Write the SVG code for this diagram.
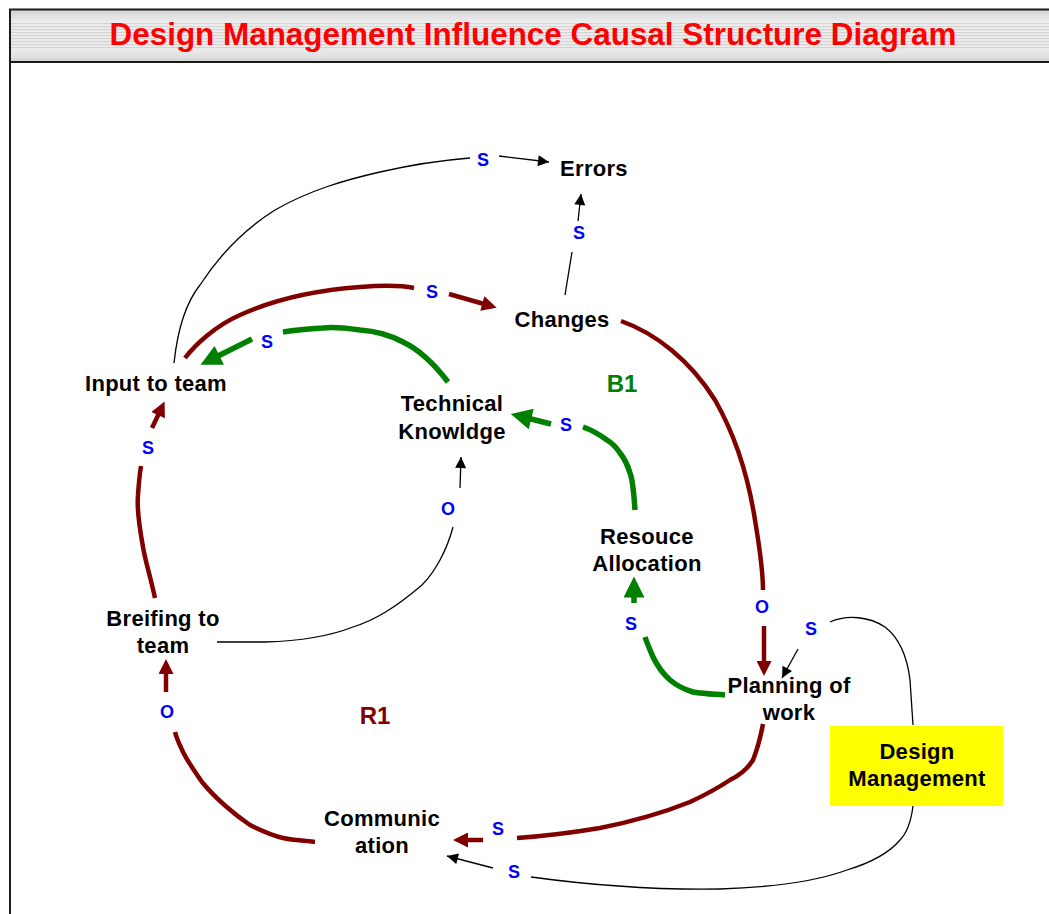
<svg xmlns="http://www.w3.org/2000/svg" width="1049" height="914" viewBox="0 0 1049 914">
  <style>
    .node { font-family: "Liberation Sans", Arial, sans-serif; font-weight: bold; font-size: 22px; fill: #000; text-anchor: middle; letter-spacing: 0.3px; }
    .pol { font-family: "Liberation Sans", Arial, sans-serif; font-weight: bold; font-size: 18px; fill: #0000ff; text-anchor: middle; }
    .loop { font-family: "Liberation Sans", Arial, sans-serif; font-weight: bold; font-size: 24px; text-anchor: middle; }
    .thin { fill: none; stroke: #000; stroke-width: 1.3; }
    .red { fill: none; stroke: #800000; stroke-width: 4.5; }
    .green { fill: none; stroke: #008000; stroke-width: 5.5; }
    .frame { stroke: #1a1a1a; stroke-width: 2; fill: none; }
  </style>
  <defs>
    <linearGradient id="barGrad" x1="0" y1="0" x2="0" y2="1">
      <stop offset="0" stop-color="#d2d2d2"/>
      <stop offset="0.12" stop-color="#e2e2e2"/>
      <stop offset="0.25" stop-color="#eeeeee"/>
      <stop offset="0.75" stop-color="#ececec"/>
      <stop offset="0.9" stop-color="#e0e0e0"/>
      <stop offset="1" stop-color="#cfcfcf"/>
    </linearGradient>
    <pattern id="stripes" x="0" y="23" width="20" height="3" patternUnits="userSpaceOnUse">
      <rect x="0" y="0" width="20" height="1.2" fill="#d3d3d3"/>
    </pattern>
    <marker id="ahBlack" viewBox="0 0 10 10" refX="10" refY="5" markerWidth="13" markerHeight="11" markerUnits="userSpaceOnUse" orient="auto">
      <path d="M0,0 L10,5 L0,10 z" fill="#000"/>
    </marker>
    <marker id="ahRed" viewBox="0 0 10 10" refX="6" refY="5" markerWidth="17" markerHeight="15" markerUnits="userSpaceOnUse" orient="auto">
      <path d="M0,0 L10,5 L0,10 z" fill="#800000"/>
    </marker>
    <marker id="ahGreen" viewBox="0 0 10 10" refX="6" refY="5" markerWidth="22" markerHeight="21" markerUnits="userSpaceOnUse" orient="auto">
      <path d="M0,0 L10,5 L0,10 z" fill="#008000"/>
    </marker>
  </defs>

  <rect width="1049" height="914" fill="#ffffff"/>

  <!-- title bar and frame -->
  <g id="title">
    <rect x="10" y="10" width="1045" height="52" fill="url(#barGrad)"/>
    <rect x="10" y="23" width="1045" height="27" fill="url(#stripes)"/>
    <line class="frame" x1="9" y1="9.5" x2="1055" y2="9.5"/>
    <line class="frame" x1="9" y1="62" x2="1055" y2="62"/>
    <line class="frame" x1="10" y1="9" x2="10" y2="914"/>
    <text x="533" y="45" font-family="'Liberation Sans', Arial, sans-serif" font-weight="bold" font-size="31" fill="#ff0000" text-anchor="middle" textLength="847" lengthAdjust="spacingAndGlyphs">Design Management Influence Causal Structure Diagram</text>
  </g>

  <!-- connectors -->
  <g id="connectors">
    <!-- Input to team -> Errors -->
    <path class="thin" d="M174,363 C177,335 184,305 200,285 C215,262 240,232 275,210 C310,190 345,180 380,172 C415,164 445,160 470,158"/>
    <path class="thin" d="M499,156 L549,162" marker-end="url(#ahBlack)"/>
    <!-- Changes -> Errors -->
    <path class="thin" d="M565,295 L572,252"/>
    <path class="thin" d="M578,221 L581,194" marker-end="url(#ahBlack)"/>
    <!-- Breifing to team -> Technical Knowldge -->
    <path class="thin" d="M217,642 L265,642 C300,641 330,636 353,627 C375,620 395,608 422,585 C435,572 447,550 453,527"/>
    <path class="thin" d="M460,488 L461,457" marker-end="url(#ahBlack)"/>
    <!-- Design Management -> Planning of work -->
    <path class="thin" d="M913,725 L910,680 C907,655 898,637 885,627 C870,617 848,614 830,622"/>
    <path class="thin" d="M798,649 L782,678" marker-end="url(#ahBlack)"/>
    <!-- Design Management -> Communication -->
    <path class="thin" d="M913,806 C911,822 907,833 900,840 C890,852 870,863 847,870 C820,880 780,887 720,889 C660,890 590,885 531,877"/>
    <path class="thin" d="M493,868 L447,856" marker-end="url(#ahBlack)"/>

    <!-- Input to team -> Changes -->
    <path class="red" d="M185,358 C195,345 215,326 240,315 C275,299 320,290 360,287 C385,285 400,285 414,288"/>
    <path class="red" d="M449,294 L491,306" marker-end="url(#ahRed)"/>
    <!-- Changes -> Planning of work -->
    <path class="red" d="M621,321 C655,333 690,360 715,400 C735,435 748,475 755,520 C760,550 763,570 763,590"/>
    <path class="red" d="M764,626 L764,670" marker-end="url(#ahRed)"/>
    <!-- Breifing to team -> Input to team -->
    <path class="red" d="M155,598 C150,575 145,560 143,547 C139,525 137,505 138,495 C139,480 140,472 141,466"/>
    <path class="red" d="M152,428 L162,407" marker-end="url(#ahRed)"/>
    <!-- Communication -> Breifing to team -->
    <path class="red" d="M315,842 C300,840 290,840 283,838 C270,835 260,830 250,825 C235,815 215,798 202,782 C195,772 188,762 183,752 C180,745 177,740 175,732"/>
    <path class="red" d="M166,692 L166,665" marker-end="url(#ahRed)"/>
    <!-- Planning of work -> Communication -->
    <path class="red" d="M763,724 C760,740 757,750 753,760 C747,770 740,775 730,780 C715,790 705,795 690,802 C670,810 640,820 600,828 C570,833 545,836 517,838"/>
    <path class="red" d="M483,840 L459,840" marker-end="url(#ahRed)"/>

    <!-- Technical Knowldge -> Input to team -->
    <path class="green" d="M448,382 C435,365 420,350 403,342 C390,335 375,331 360,330 C345,328 330,327 323,328 C305,329 295,330 283,332"/>
    <path class="green" d="M252,339 L208,361" marker-end="url(#ahGreen)"/>
    <!-- Planning of work -> Resouce Allocation -->
    <path class="green" d="M725,695 C712,694 705,694 693,692 C683,689 676,685 670,680 C662,673 657,665 653,657 C650,650 647,643 645,637"/>
    <path class="green" d="M634,603 L634,585" marker-end="url(#ahGreen)"/>
    <!-- Resouce Allocation -> Technical Knowldge -->
    <path class="green" d="M635,510 C634,495 633,480 630,473 C627,463 624,458 620,453 C616,447 612,443 607,440 C600,435 592,430 583,427"/>
    <path class="green" d="M551,424 L519,416" marker-end="url(#ahGreen)"/>

    <!-- polarity labels -->
    <text class="pol" x="483" y="166">S</text>
    <text class="pol" x="579" y="239">S</text>
    <text class="pol" x="432" y="298">S</text>
    <text class="pol" x="267" y="348">S</text>
    <text class="pol" x="566" y="431">S</text>
    <text class="pol" x="448" y="515">O</text>
    <text class="pol" x="148" y="454">S</text>
    <text class="pol" x="167" y="718">O</text>
    <text class="pol" x="631" y="630">S</text>
    <text class="pol" x="762" y="613">O</text>
    <text class="pol" x="811" y="635">S</text>
    <text class="pol" x="498" y="835">S</text>
    <text class="pol" x="514" y="878">S</text>
  </g>

  <!-- loop labels -->
  <text class="loop" x="622" y="392" fill="#008000">B1</text>
  <text class="loop" x="375" y="724" fill="#800000">R1</text>

  <!-- nodes -->
  <g id="errors"><text class="node" x="594" y="176">Errors</text></g>
  <g id="changes"><text class="node" x="562" y="327">Changes</text></g>
  <g id="input-to-team"><text class="node" x="156" y="391">Input to team</text></g>
  <g id="technical-knowldge">
    <text class="node" x="452" y="411">Technical</text>
    <text class="node" x="452" y="439">Knowldge</text>
  </g>
  <g id="resouce-allocation">
    <text class="node" x="647" y="544">Resouce</text>
    <text class="node" x="647" y="571">Allocation</text>
  </g>
  <g id="breifing-to-team">
    <text class="node" x="163" y="626">Breifing to</text>
    <text class="node" x="163" y="653">team</text>
  </g>
  <g id="planning-of-work">
    <text class="node" x="789" y="693">Planning of</text>
    <text class="node" x="789" y="720">work</text>
  </g>
  <g id="communication">
    <text class="node" x="382" y="826">Communic</text>
    <text class="node" x="382" y="853">ation</text>
  </g>
  <g id="design-management">
    <rect x="830" y="726" width="173" height="80" fill="#ffff00"/>
    <text class="node" x="917" y="759">Design</text>
    <text class="node" x="917" y="786">Management</text>
  </g>
</svg>
